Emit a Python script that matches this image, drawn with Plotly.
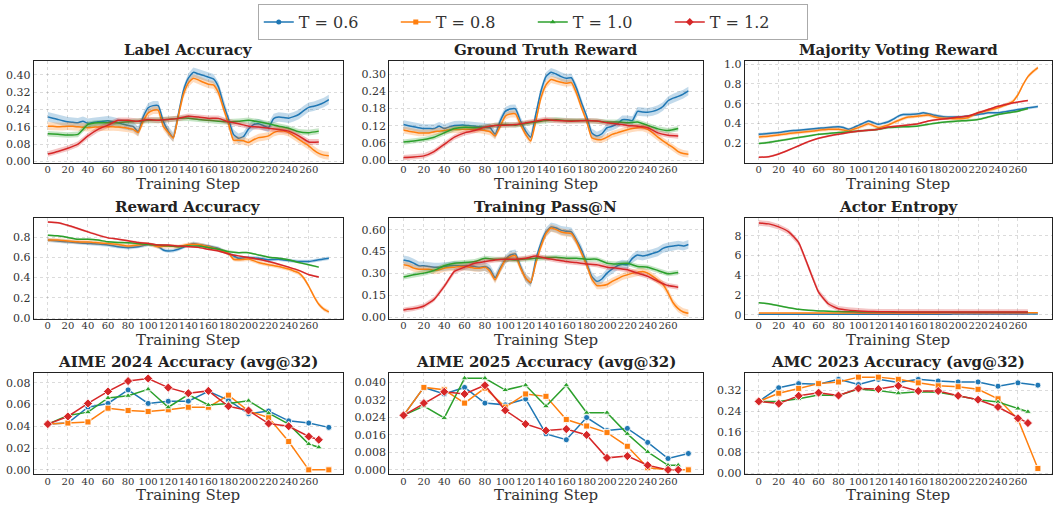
import plotly.graph_objects as go

SERIF = "DejaVu Serif"
COLORS = ["#1f77b4", "#ff7f0e", "#2ca02c", "#d62728"]
LABELS = ["T = 0.6", "T = 0.8", "T = 1.0", "T = 1.2"]
SYMBOLS = ["circle", "square", "triangle-up", "diamond"]
MSIZE = [6, 6, 6, 7]
LEGEND_MSIZE = [5, 5, 5, 6]

# step grids
STEPS5 = list(range(0, 285, 5))     # T=0.6, T=0.8 smooth curves
STEPS10 = list(range(0, 275, 10))   # T=1.0, T=1.2 smooth curves
EVAL_A = [0, 20, 40, 60, 80, 100, 120, 140, 160, 180, 200, 220, 240, 260, 280]
EVAL_B = [0, 20, 40, 60, 80, 100, 120, 140, 160, 180, 200, 220, 240, 260, 270]
XTICKS = [0, 20, 40, 60, 80, 100, 120, 140, 160, 180, 200, 220, 240, 260]

# ---------------- Label Accuracy ----------------
LA_B = [0.206,0.200,0.194,0.188,0.183,0.181,0.179,0.186,0.176,0.180,
        0.183,0.186,0.188,0.183,0.179,0.172,0.166,0.162,0.138,0.205,
        0.248,0.258,0.258,0.185,0.140,0.112,0.215,0.325,0.385,0.412,
        0.405,0.398,0.390,0.382,0.345,0.265,0.195,0.125,0.107,0.115,
        0.150,0.170,0.174,0.165,0.157,0.198,0.205,0.203,0.200,0.207,
        0.217,0.235,0.250,0.255,0.262,0.272,0.286]
LA_O = [0.163,0.162,0.160,0.161,0.163,0.162,0.160,0.158,0.156,0.158,
        0.159,0.160,0.160,0.160,0.159,0.157,0.153,0.148,0.133,0.186,
        0.224,0.237,0.237,0.163,0.133,0.108,0.209,0.308,0.362,0.385,
        0.377,0.366,0.357,0.354,0.318,0.245,0.175,0.098,0.098,0.095,
        0.087,0.100,0.110,0.113,0.118,0.133,0.140,0.140,0.133,0.118,
        0.102,0.087,0.072,0.052,0.037,0.029,0.026]
LA_G = [0.128,0.125,0.122,0.125,0.171,0.179,0.179,0.179,0.183,0.186,
        0.190,0.190,0.194,0.199,0.200,0.194,0.190,0.186,0.183,0.186,
        0.190,0.183,0.174,0.163,0.153,0.137,0.133,0.140]
LA_R = [0.034,0.046,0.061,0.080,0.118,0.148,0.168,0.190,0.190,0.186,
        0.194,0.190,0.194,0.199,0.209,0.205,0.199,0.199,0.183,0.174,
        0.163,0.159,0.153,0.148,0.140,0.118,0.090,0.090]
LA_BAND = [0.022, 0.018, 0.013, 0.013]

# ---------------- Ground Truth Reward ----------------
GT_B = [0.124,0.120,0.116,0.113,0.110,0.110,0.110,0.118,0.110,0.116,
        0.121,0.122,0.122,0.120,0.118,0.116,0.115,0.113,0.090,0.136,
        0.170,0.178,0.179,0.136,0.101,0.080,0.159,0.239,0.291,0.306,
        0.300,0.291,0.285,0.287,0.250,0.199,0.153,0.095,0.084,0.092,
        0.113,0.118,0.126,0.141,0.141,0.138,0.170,0.168,0.167,0.170,
        0.176,0.187,0.207,0.216,0.222,0.230,0.241]
GT_O = [0.105,0.101,0.098,0.095,0.095,0.095,0.099,0.101,0.103,0.106,
        0.107,0.107,0.108,0.108,0.107,0.106,0.103,0.099,0.084,0.118,
        0.153,0.161,0.161,0.124,0.090,0.067,0.136,0.216,0.262,0.281,
        0.276,0.271,0.268,0.270,0.233,0.182,0.136,0.078,0.072,0.072,
        0.080,0.090,0.095,0.101,0.106,0.110,0.113,0.113,0.107,0.095,
        0.080,0.067,0.055,0.044,0.030,0.023,0.021]
GT_G = [0.063,0.067,0.072,0.080,0.095,0.110,0.115,0.113,0.115,0.121,
        0.124,0.122,0.128,0.133,0.138,0.141,0.138,0.138,0.138,0.136,
        0.133,0.133,0.130,0.133,0.121,0.109,0.103,0.110]
GT_R = [0.009,0.011,0.015,0.030,0.055,0.080,0.095,0.103,0.115,0.121,
        0.122,0.124,0.130,0.136,0.142,0.138,0.136,0.136,0.138,0.136,
        0.130,0.126,0.121,0.118,0.113,0.095,0.087,0.084]
GT_BAND = [0.015, 0.012, 0.009, 0.009]

# ---------------- Majority Voting Reward ----------------
MV_B = [0.293,0.296,0.300,0.305,0.310,0.318,0.326,0.330,0.333,0.338,
        0.343,0.348,0.353,0.357,0.360,0.365,0.369,0.360,0.343,0.360,
        0.383,0.405,0.426,0.410,0.393,0.405,0.419,0.445,0.476,0.492,
        0.492,0.495,0.499,0.509,0.499,0.488,0.476,0.470,0.466,0.466,
        0.466,0.470,0.476,0.484,0.492,0.500,0.509,0.509,0.509,0.517,
        0.525,0.533,0.542,0.550,0.559,0.565,0.572]
MV_O = [0.266,0.270,0.273,0.280,0.286,0.293,0.300,0.305,0.310,0.315,
        0.320,0.326,0.333,0.338,0.343,0.343,0.343,0.335,0.326,0.343,
        0.360,0.380,0.399,0.380,0.360,0.372,0.386,0.410,0.432,0.452,
        0.466,0.470,0.476,0.482,0.486,0.472,0.459,0.455,0.452,0.450,
        0.449,0.452,0.459,0.485,0.509,0.520,0.532,0.545,0.559,0.578,
        0.598,0.625,0.691,0.791,0.874,0.924,0.964]
MV_G = [0.200,0.210,0.227,0.243,0.260,0.276,0.293,0.300,0.310,0.316,
        0.326,0.333,0.343,0.360,0.366,0.369,0.376,0.393,0.409,0.419,
        0.426,0.432,0.442,0.466,0.492,0.509,0.525,0.552]
MV_R = [0.061,0.067,0.094,0.134,0.177,0.220,0.253,0.276,0.293,0.310,
        0.326,0.333,0.343,0.366,0.376,0.386,0.399,0.426,0.442,0.452,
        0.466,0.476,0.509,0.542,0.575,0.598,0.618,0.632]
MV_BAND = [0.014, 0.018, 0.011, 0.009]

# ---------------- Reward Accuracy ----------------
RA_B = [0.771,0.766,0.761,0.757,0.754,0.750,0.745,0.741,0.738,0.735,
        0.732,0.727,0.722,0.714,0.706,0.700,0.696,0.700,0.706,0.717,
        0.728,0.722,0.706,0.673,0.663,0.667,0.680,0.700,0.722,0.738,
        0.728,0.720,0.712,0.700,0.689,0.665,0.641,0.615,0.592,0.595,
        0.598,0.595,0.592,0.585,0.576,0.580,0.582,0.575,0.569,0.564,
        0.559,0.559,0.559,0.567,0.576,0.584,0.592]
RA_O = [0.771,0.771,0.771,0.766,0.761,0.757,0.754,0.752,0.751,0.748,
        0.745,0.741,0.738,0.733,0.728,0.720,0.712,0.717,0.722,0.727,
        0.732,0.720,0.706,0.709,0.712,0.709,0.706,0.717,0.728,0.730,
        0.728,0.717,0.706,0.693,0.680,0.660,0.641,0.582,0.576,0.580,
        0.585,0.568,0.550,0.538,0.527,0.519,0.511,0.498,0.485,0.466,
        0.446,0.397,0.315,0.218,0.137,0.088,0.062]
RA_G = [0.820,0.813,0.797,0.780,0.780,0.771,0.754,0.748,0.745,0.738,
        0.728,0.722,0.715,0.706,0.712,0.712,0.696,0.680,0.657,0.647,
        0.647,0.624,0.602,0.592,0.576,0.550,0.527,0.504]
RA_R = [0.950,0.943,0.917,0.885,0.852,0.820,0.793,0.780,0.764,0.748,
        0.738,0.722,0.722,0.712,0.706,0.699,0.680,0.663,0.634,0.615,
        0.598,0.582,0.559,0.533,0.504,0.472,0.429,0.407]
RA_BAND = [0.018, 0.020, 0.009, 0.009]

# ---------------- Training Pass@N ----------------
PN_B = [0.393,0.386,0.371,0.353,0.353,0.348,0.344,0.344,0.348,0.353,
        0.355,0.353,0.353,0.353,0.348,0.344,0.348,0.330,0.270,0.337,
        0.393,0.427,0.434,0.348,0.270,0.236,0.393,0.506,0.584,0.618,
        0.611,0.595,0.589,0.584,0.528,0.461,0.371,0.281,0.247,0.263,
        0.303,0.330,0.353,0.364,0.360,0.404,0.427,0.420,0.427,0.438,
        0.449,0.472,0.483,0.488,0.494,0.488,0.499]
PN_O = [0.360,0.353,0.337,0.330,0.330,0.330,0.321,0.326,0.337,0.342,
        0.344,0.348,0.348,0.344,0.337,0.337,0.344,0.315,0.258,0.326,
        0.393,0.416,0.422,0.337,0.270,0.240,0.371,0.483,0.573,0.611,
        0.600,0.584,0.577,0.573,0.517,0.438,0.360,0.263,0.218,0.218,
        0.225,0.247,0.263,0.281,0.292,0.303,0.308,0.315,0.303,0.281,
        0.254,0.225,0.169,0.101,0.061,0.038,0.029]
PN_G = [0.276,0.292,0.303,0.321,0.353,0.371,0.375,0.382,0.404,0.398,
        0.398,0.393,0.400,0.404,0.409,0.411,0.404,0.404,0.398,0.398,
        0.371,0.366,0.371,0.348,0.344,0.321,0.299,0.308]
PN_R = [0.052,0.061,0.079,0.124,0.213,0.315,0.344,0.371,0.382,0.393,
        0.398,0.398,0.404,0.420,0.404,0.393,0.382,0.375,0.366,0.360,
        0.344,0.337,0.326,0.303,0.281,0.247,0.218,0.207]
PN_BAND = [0.030, 0.025, 0.017, 0.017]

# ---------------- Actor Entropy ----------------
EN_B = [0.06,0.06,0.06,0.06,0.06,0.06,0.06,0.06,0.06,0.06,
        0.06,0.06,0.06,0.06,0.06,0.07,0.07,0.07,0.07,0.07,
        0.07,0.07,0.07,0.07,0.07,0.07,0.07,0.07,0.07,0.07,
        0.07,0.07,0.07,0.07,0.07,0.07,0.07,0.07,0.07,0.08,
        0.08,0.08,0.08,0.08,0.08,0.08,0.08,0.08,0.08,0.08,
        0.08,0.08,0.08,0.08,0.08,0.08,0.08]
EN_O = [0.19,0.19,0.19,0.19,0.19,0.19,0.19,0.19,0.19,0.19,
        0.19,0.19,0.19,0.19,0.20,0.20,0.20,0.20,0.20,0.20,
        0.20,0.20,0.20,0.20,0.20,0.20,0.20,0.20,0.20,0.20,
        0.20,0.20,0.20,0.20,0.20,0.20,0.20,0.21,0.21,0.21,
        0.21,0.21,0.21,0.21,0.21,0.21,0.21,0.21,0.21,0.21,
        0.22,0.22,0.22,0.22,0.22,0.22,0.22]
EN_G = [1.23,1.13,0.93,0.73,0.56,0.46,0.40,0.37,0.33,0.31,
        0.30,0.29,0.28,0.28,0.27,0.27,0.27,0.27,0.27,0.27,
        0.27,0.27,0.27,0.27,0.27,0.27,0.27,0.27]
EN_R = [9.30,9.20,8.90,8.40,7.30,4.80,2.30,1.10,0.62,0.48,
        0.40,0.35,0.32,0.31,0.30,0.30,0.29,0.29,0.29,0.29,
        0.29,0.29,0.29,0.29,0.29,0.29,0.29,0.29]
EN_BAND = [0.03, 0.03, 0.06, 0.28]

# ---------------- Evaluation accuracies ----------------
A24_B = [0.042,0.043,0.0575,0.061,0.0734,0.061,0.063,0.063,0.072,0.064,0.0515,0.054,0.045,0.043,0.039]
A24_O = [0.042,0.043,0.044,0.0566,0.0545,0.0536,0.0551,0.0575,0.0575,0.0686,0.054,0.048,0.026,0.0,0.0]
A24_G = [0.042,0.050,0.053,0.066,0.068,0.074,0.0575,0.069,0.0596,0.061,0.0635,0.052,0.042,0.0237,0.0207]
A24_R = [0.042,0.049,0.061,0.072,0.0815,0.0839,0.0755,0.0704,0.0725,0.0584,0.0545,0.0425,0.040,0.0306,0.0276]

A25_B = [0.025,0.0378,0.0348,0.0378,0.0306,0.0298,0.0325,0.0165,0.0138,0.024,0.018,0.019,0.0126,0.0052,0.0075]
A25_O = [0.025,0.0378,0.0367,0.0306,0.0375,0.0288,0.0348,0.0337,0.0231,0.0201,0.0171,0.0108,0.001,0.0,0.0]
A25_G = [0.025,0.0292,0.0238,0.042,0.042,0.0366,0.0388,0.0292,0.0388,0.0262,0.0262,0.0165,0.0082,0.0021,0.0021]
A25_R = [0.025,0.0306,0.0358,0.0348,0.0388,0.0273,0.021,0.018,0.0187,0.016,0.0055,0.0063,0.0021,0.0,0.0]

AMC_B = [0.2775,0.330,0.346,0.344,0.3625,0.3425,0.3625,0.350,0.3625,0.356,0.3525,0.3525,0.336,0.349,0.340]
AMC_O = [0.2775,0.309,0.3275,0.346,0.3525,0.371,0.371,0.3625,0.349,0.3375,0.334,0.324,0.2875,0.209,0.019]
AMC_G = [0.2775,0.2775,0.2875,0.3025,0.300,0.325,0.319,0.309,0.315,0.3125,0.299,0.284,0.275,0.250,0.2375]
AMC_R = [0.2775,0.269,0.299,0.311,0.300,0.3275,0.325,0.3375,0.3175,0.3175,0.299,0.284,0.256,0.2125,0.194]

# ---------------- layout geometry ----------------
XDOM = [[0.032, 0.325], [0.369, 0.666], [0.706, 0.997]]
YDOM = [[0.680, 0.884], [0.369, 0.571], [0.059, 0.261]]


def rgba(h, a):
    h = h.lstrip("#")
    return "rgba(%d,%d,%d,%.2f)" % (int(h[0:2], 16), int(h[2:4], 16), int(h[4:6], 16), a)


SMOOTH_PANELS = [
    ("Label Accuracy", [LA_B, LA_O, LA_G, LA_R], LA_BAND,
     [-0.009, 0.464], [0, 0.08, 0.16, 0.24, 0.32, 0.40], ".2f"),
    ("Ground Truth Reward", [GT_B, GT_O, GT_G, GT_R], GT_BAND,
     [-0.011, 0.345], [0, 0.06, 0.12, 0.18, 0.24, 0.30], ".2f"),
    ("Majority Voting Reward", [MV_B, MV_O, MV_G, MV_R], MV_BAND,
     [0.0, 1.03], [0.2, 0.4, 0.6, 0.8, 1.0], ".1f"),
    ("Reward Accuracy", [RA_B, RA_O, RA_G, RA_R], RA_BAND,
     [-0.01, 0.99], [0, 0.2, 0.4, 0.6, 0.8], ".1f"),
    ("Training Pass@N", [PN_B, PN_O, PN_G, PN_R], PN_BAND,
     [-0.011, 0.68], [0, 0.15, 0.30, 0.45, 0.60], ".2f"),
    ("Actor Entropy", [EN_B, EN_O, EN_G, EN_R], EN_BAND,
     [-0.43, 9.8], [0, 2, 4, 6, 8], "d"),
]
EVAL_PANELS = [
    ("AIME 2024 Accuracy (avg@32)", [A24_B, A24_O, A24_G, A24_R],
     [-0.0042, 0.0887], [0, 0.02, 0.04, 0.06, 0.08], ".2f"),
    ("AIME 2025 Accuracy (avg@32)", [A25_B, A25_O, A25_G, A25_R],
     [-0.0021, 0.0443], [0, 0.008, 0.016, 0.024, 0.032, 0.040], ".3f"),
    ("AMC 2023 Accuracy (avg@32)", [AMC_B, AMC_O, AMC_G, AMC_R],
     [-0.004, 0.386], [0, 0.08, 0.16, 0.24, 0.32], ".2f"),
]

fig = go.Figure()
layout = dict(
    width=1055, height=510, margin=dict(l=0, r=0, t=0, b=0),
    paper_bgcolor="white", plot_bgcolor="white",
    font=dict(family=SERIF, color="#333"),
    showlegend=True,
    legend=dict(orientation="h", x=0.505, xanchor="center", y=0.998, yanchor="top",
                bordercolor="#aaaaaa", borderwidth=1, bgcolor="white",
                font=dict(family=SERIF, size=16, color="#333"),
                entrywidth=92, entrywidthmode="pixels", traceorder="normal"),
)
annotations = []


def axis_setup(idx, r, c, yrange, yticks, yfmt, title):
    xa = dict(domain=XDOM[c], anchor="y%d" % idx, range=[-14, 294], tickvals=XTICKS,
              tickangle=0, ticklabelstandoff=-3,
              showgrid=True, gridcolor="rgba(0,0,0,0.14)", griddash="dot", gridwidth=1,
              showline=True, linecolor="#222", linewidth=1.3, mirror=True, zeroline=False,
              ticks="", tickfont=dict(family=SERIF, size=10, color="#333"))
    ya = dict(domain=YDOM[r], anchor="x%d" % idx, range=yrange, tickvals=yticks, tickformat=yfmt,
              showgrid=True, gridcolor="rgba(0,0,0,0.14)", griddash="dot", gridwidth=1,
              showline=True, linecolor="#222", linewidth=1.3, mirror=True, zeroline=False,
              ticks="", tickfont=dict(family=SERIF, size=11, color="#333"))
    sfx = "" if idx == 1 else str(idx)
    layout["xaxis" + sfx] = xa
    layout["yaxis" + sfx] = ya
    xc = (XDOM[c][0] + XDOM[c][1]) / 2
    annotations.append(dict(text="<b>%s</b>" % title, x=xc,
                            y=YDOM[r][1], xref="paper", yref="paper", xanchor="center",
                            yanchor="middle", yshift=11, showarrow=False,
                            font=dict(family=SERIF, size=15, color="#222")))
    annotations.append(dict(text="Training Step", x=xc,
                            y=YDOM[r][0], xref="paper", yref="paper", xanchor="center",
                            yanchor="middle", yshift=-21, showarrow=False,
                            font=dict(family=SERIF, size=15, color="#333")))


for p, (title, series, bands, yr, yt, yf) in enumerate(SMOOTH_PANELS):
    r, c = divmod(p, 3)
    idx = p + 1
    axis_setup(idx, r, c, yr, yt, yf, title)
    xref = "x" if idx == 1 else "x%d" % idx
    yref = "y" if idx == 1 else "y%d" % idx
    for k in range(4):
        xs = STEPS5 if k < 2 else STEPS10
        ys = series[k]
        h = bands[k]
        upper = [v + h for v in ys]
        lower = [max(v - h, yr[0]) for v in ys]
        fig.add_trace(go.Scatter(x=xs + xs[::-1], y=upper + lower[::-1], fill="toself",
                                 fillcolor=rgba(COLORS[k], 0.27), line=dict(width=0),
                                 mode="lines", showlegend=False, hoverinfo="skip",
                                 xaxis=xref, yaxis=yref))
        fig.add_trace(go.Scatter(x=xs, y=ys, mode="lines",
                                 line=dict(color=COLORS[k], width=1.5, shape="spline", smoothing=0.5),
                                 showlegend=False, xaxis=xref, yaxis=yref))

for p, (title, series, yr, yt, yf) in enumerate(EVAL_PANELS):
    idx = 7 + p
    axis_setup(idx, 2, p, yr, yt, yf, title)
    xref = "x%d" % idx
    yref = "y%d" % idx
    for k in range(4):
        xs = EVAL_A if k < 2 else EVAL_B
        fig.add_trace(go.Scatter(x=xs, y=series[k], mode="lines+markers",
                                 line=dict(color=COLORS[k], width=1.5),
                                 marker=dict(symbol=SYMBOLS[k], size=MSIZE[k], color=COLORS[k],
                                             line=dict(color="rgba(255,255,255,0.85)", width=1)),
                                 name=LABELS[k], legendgroup=LABELS[k], showlegend=False,
                                 xaxis=xref, yaxis=yref))

# legend-only entries with small markers
for k in range(4):
    fig.add_trace(go.Scatter(x=[None], y=[None], mode="lines+markers",
                             line=dict(color=COLORS[k], width=1.5),
                             marker=dict(symbol=SYMBOLS[k], size=LEGEND_MSIZE[k], color=COLORS[k]),
                             name=LABELS[k], legendgroup=LABELS[k], showlegend=True,
                             xaxis="x7", yaxis="y7"))

layout["annotations"] = annotations
fig.update_layout(**layout)
fig.write_html("out.html")
